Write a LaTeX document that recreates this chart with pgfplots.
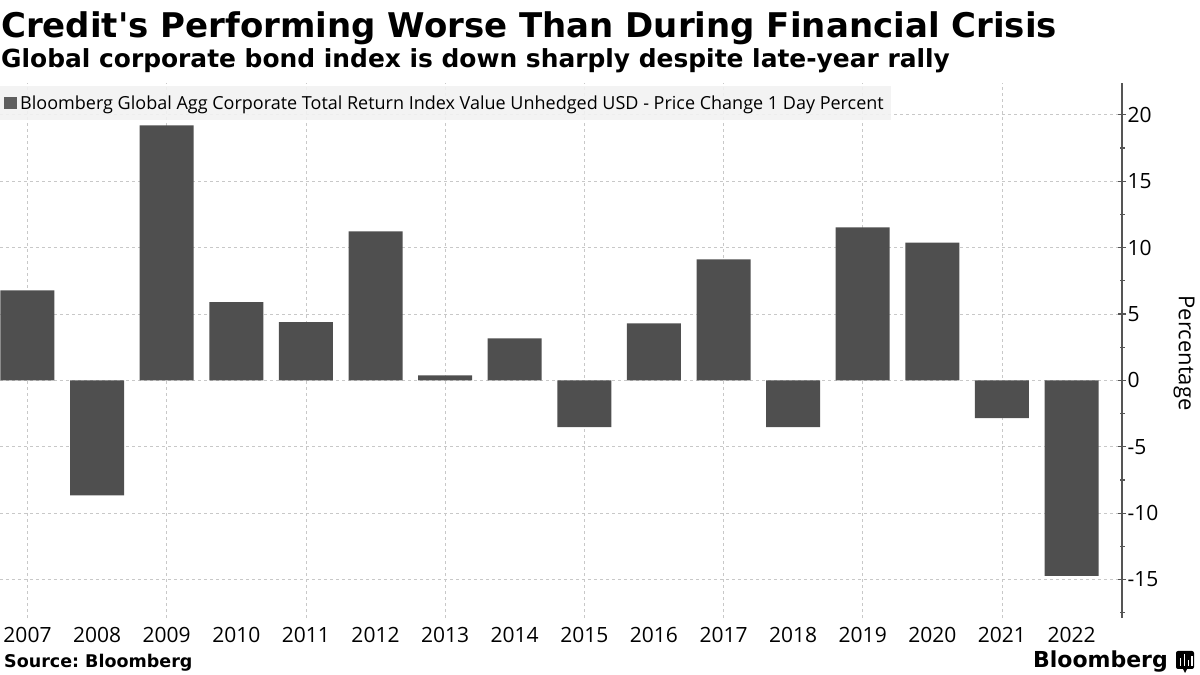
\documentclass[border=0pt]{standalone}
\usepackage{fontspec}
\usepackage{pgfplots}
\pgfplotsset{compat=1.18}
\setmainfont{Open Sans}
\newfontfamily\titlefont{DejaVu Sans}[UprightFont=* Bold]
\definecolor{barc}{HTML}{4F4F4F}
\definecolor{gridc}{HTML}{C8C8C8}
\definecolor{legbg}{HTML}{F2F2F2}
\definecolor{axisc}{HTML}{555555}
\begin{document}
\begin{tikzpicture}[x=1pt,y=1pt]
\path[use as bounding box] (0,0) rectangle (1200,675);
\begin{axis}[
  at={(0pt,57pt)}, anchor=south west,
  scale only axis, width=1122pt, height=535pt,
  xmin=-0.395, xmax=15.725, ymin=-17.9, ymax=22.4,
  axis x line=bottom, axis y line=right,
  axis line style={-},
  x axis line style={draw=none},
  y axis line style={draw=axisc, line width=1.2pt},
  xtick={0,...,15},
  xticklabels={2007,2008,2009,2010,2011,2012,2013,2014,2015,2016,2017,2018,2019,2020,2021,2022},
  xtick style={draw=none},
  xticklabel style={font=\fontsize{21}{24}\selectfont, yshift=2pt},
  extra x ticks={0,2,...,14},
  extra x tick labels={},
  extra x tick style={grid=major, xtick style={draw=none}},
  ytick={-15,-10,...,20},
  minor ytick={-17.5,-12.5,...,17.5},
  ymajorgrids,
  major grid style={draw=gridc, line width=0.8pt, dash pattern=on 3pt off 3pt},
  ytick style={draw=axisc, line width=1.2pt},
  major tick length=8pt, minor tick length=5pt,
  yticklabel style={font=\fontsize{21}{24}\selectfont, /pgf/number format/assume math mode=true, xshift=-2pt},
  ybar, bar width=54pt,
  legend style={at={(0,0.994)}, anchor=north west, fill=legbg, draw=none, fill opacity=0.9, text opacity=1,
    font=\fontsize{18}{20}\selectfont, inner xsep=4pt, inner ysep=7pt,
    nodes={inner xsep=3pt}},
  legend image code/.code={\fill[barc] (4pt,-6pt) rectangle (17pt,6pt);},
]
\addplot[fill=barc, draw=none] coordinates {
(0,6.78) (1,-8.66) (2,19.2) (3,5.9) (4,4.39) (5,11.22) (6,0.38) (7,3.16)
(8,-3.52) (9,4.29) (10,9.11) (11,-3.52) (12,11.52) (13,10.37) (14,-2.84) (15,-14.73)
};
\addlegendentry{Bloomberg Global Agg Corporate Total Return Index Value Unhedged USD - Price Change 1 Day Percent}
\end{axis}
\node[anchor=base west, font=\titlefont\fontsize{34}{40}\selectfont, inner sep=0] at (1,637) {Credit's Performing Worse Than During Financial Crisis};
\node[anchor=base west, font=\titlefont\fontsize{24.9}{28}\selectfont, inner sep=0] at (1,607) {Global corporate bond index is down sharply despite late-year rally};
\node[rotate=-90, font=\fontsize{22}{26}\selectfont] at (1184,322) {Percentage};
\node[anchor=base west, font=\titlefont\fontsize{17.5}{20}\selectfont, inner sep=0] at (4,8) {Source:\ Bloomberg};
\node[anchor=base east, font=\titlefont\fontsize{22}{26}\selectfont, inner sep=0] at (1168,7) {Bloomberg};
\fill[black, rounded corners=2pt] (1176,6) rectangle (1194,24);
\fill[black] (1183,6) -- (1185,2) -- (1187,6) -- cycle;
\foreach \xx/\hh in {1179.5/8,1183.5/12,1187.5/6,1191/10}{\fill[white] (\xx,9) rectangle ++(1.8,\hh);}
\end{tikzpicture}
\end{document}
